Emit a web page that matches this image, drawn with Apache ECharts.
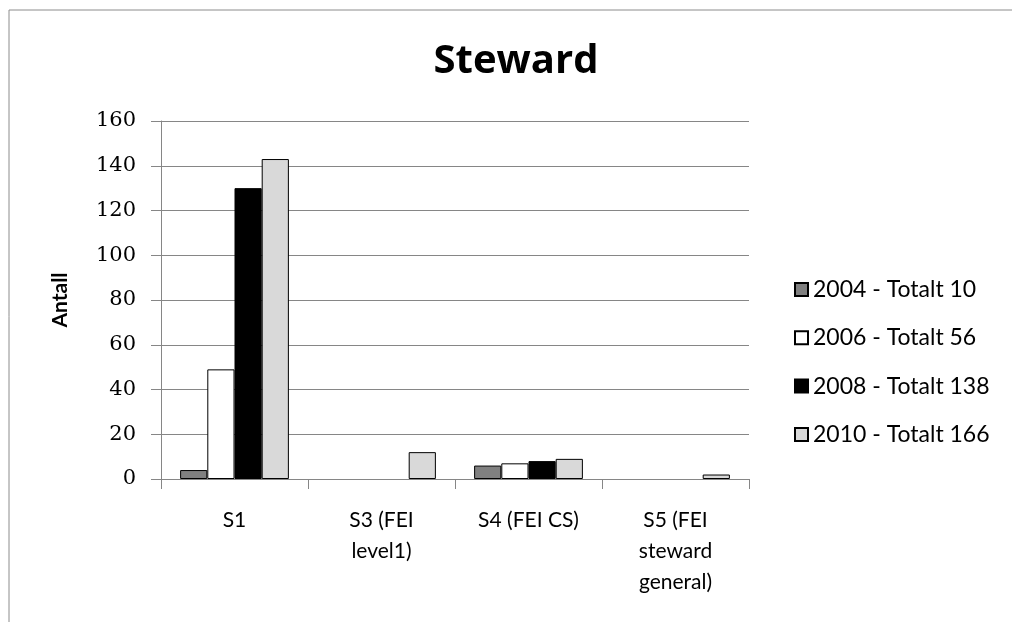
<!DOCTYPE html>
<html>
<head>
<meta charset="utf-8">
<script src="https://cdn.jsdelivr.net/npm/echarts@6/dist/echarts.min.js"></script>
<style>html,body{margin:0;padding:0;background:#fff}#c{width:1012px;height:622px}</style>
</head>
<body>
<div id="c"></div>
<script>
var categories = ['S1', 'S3 (FEI\nlevel1)', 'S4 (FEI CS)', 'S5 (FEI\nsteward\ngeneral)'];
var seriesNames = ['2004 - Totalt 10', '2006 - Totalt 56', '2008 - Totalt 138', '2010 - Totalt 166'];
var s2004 = [4, 0, 6, 0];
var s2006 = [49, 0, 7, 0];
var s2008 = [130, 0, 8, 0];
var s2010 = [143, 12, 9, 2];
var yTicks = [0, 20, 40, 60, 80, 100, 120, 140, 160];

var colors = ['#808080', '#ffffff', '#000000', '#d9d9d9'];
var data = [s2004, s2006, s2008, s2010];
var FONT = 'Lato';

var chart = echarts.init(document.getElementById('c'), null, {renderer: 'canvas'});
var series = data.map(function (d, i) {
  return {
    name: seriesNames[i],
    type: 'bar',
    // zero values draw no bar (as in the reference)
    data: d.map(function (v) { return v === 0 ? '-' : v; }),
    barGap: '0%',
    barCategoryGap: '26%',
    itemStyle: {color: colors[i], borderColor: '#000', borderWidth: 1},
    emphasis: {disabled: true},
    animation: false
  };
});

chart.setOption({
  animation: false,
  title: {
    text: 'Steward',
    left: 511, top: 37, textAlign: 'center',
    textStyle: {fontFamily: 'Open Sans', fontWeight: 'bold', fontSize: 40, color: '#000'}
  },
  graphic: [{
    type: 'rect', shape: {x: 9, y: 10, width: 1100, height: 700},
    style: {fill: 'none', stroke: '#8c8c8c', lineWidth: 1}, silent: true
  }],
  legend: {
    orient: 'vertical', left: 789, top: 273, itemGap: 25.3,
    itemWidth: 13, itemHeight: 13, icon: 'rect',
    textStyle: {fontFamily: FONT, fontSize: 23, color: '#000', padding: [0, 0, 0, 0]},
    data: seriesNames
  },
  grid: {left: 161, right: 263, top: 121, bottom: 143, containLabel: false},
  xAxis: {
    type: 'category', data: categories,
    axisLine: {lineStyle: {color: '#868686', width: 1}},
    axisTick: {show: true, length: 10, lineStyle: {color: '#868686'}},
    axisLabel: {fontFamily: FONT, fontSize: 21, color: '#000', margin: 26, lineHeight: 31, interval: 0}
  },
  yAxis: {
    type: 'value', min: yTicks[0], max: yTicks[yTicks.length - 1], interval: 20,
    name: 'Antall', nameLocation: 'middle', nameGap: 90, nameRotate: 90,
    nameTextStyle: {fontFamily: FONT, fontWeight: 'bold', fontSize: 21, color: '#000'},
    axisLine: {show: true, lineStyle: {color: '#868686', width: 1}},
    axisTick: {show: true, length: 10, lineStyle: {color: '#868686'}},
    axisLabel: {fontFamily: 'DejaVu Serif', fontSize: 21, color: '#000', margin: 25},
    splitLine: {show: true, lineStyle: {color: '#868686', width: 1}}
  },
  series: series
});
</script>
</body>
</html>
